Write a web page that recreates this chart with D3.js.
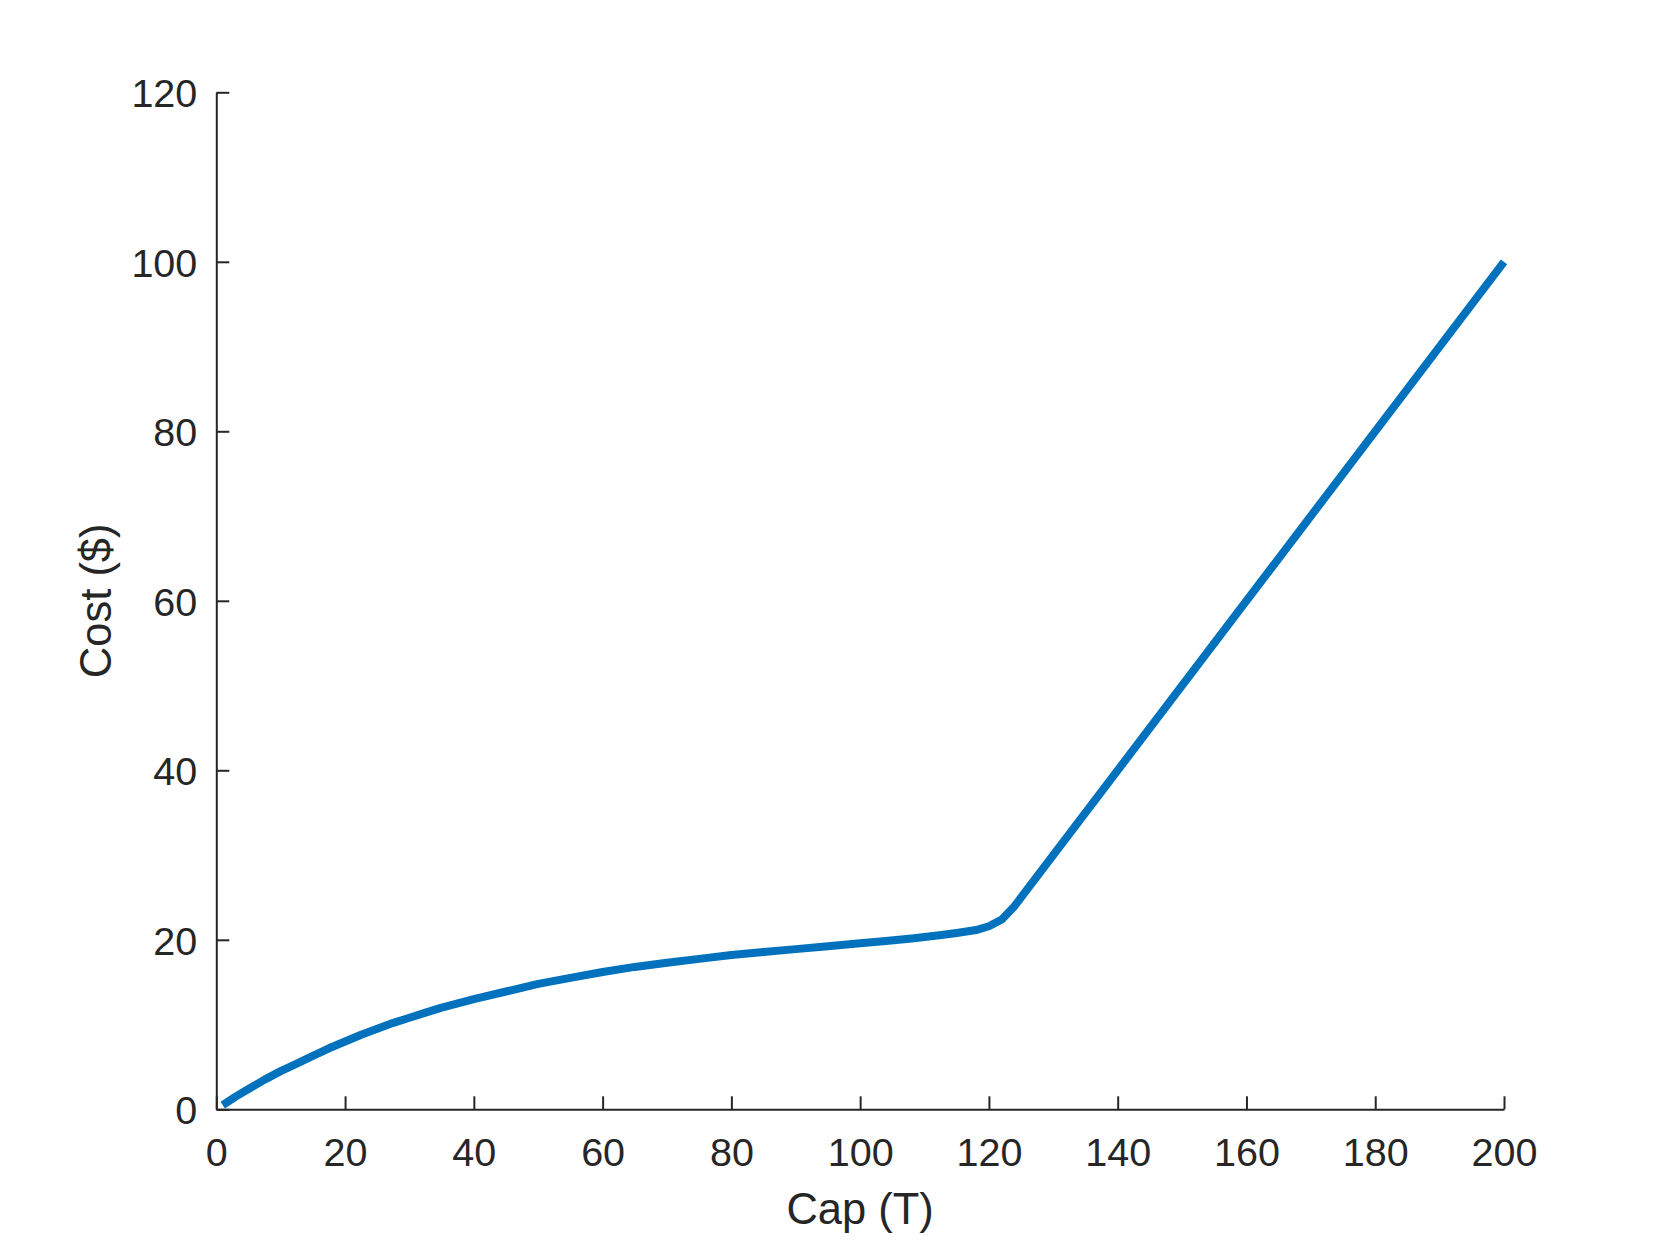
<!DOCTYPE html>
<html>
<head>
<meta charset="utf-8">
<script src="https://cdn.jsdelivr.net/npm/d3@7"></script>
<style>
  body { margin: 0; background: #fff; }
  svg { display: block; }
  .tick text { font-family: "Liberation Sans", Arial, sans-serif; fill: #262626; }
</style>
</head>
<body>
<svg id="chart" width="1661" height="1246"></svg>
<script>
// curve values
const capValues = [1, 3, 5, 7.5, 10, 12.5, 15, 17.5, 20, 22.5, 25, 27.5, 30, 32.5, 35, 37.5, 40, 45, 50, 55, 60, 65, 70, 75, 80, 85, 90, 95, 100, 104, 108, 112, 115, 118, 120, 122, 124, 200];
const costValues = [0.5, 1.5, 2.4, 3.5, 4.5, 5.4, 6.3, 7.2, 8.0, 8.8, 9.5, 10.2, 10.8, 11.4, 12.0, 12.5, 13.0, 13.9, 14.8, 15.5, 16.2, 16.8, 17.3, 17.75, 18.2, 18.55, 18.9, 19.25, 19.6, 19.85, 20.15, 20.5, 20.8, 21.15, 21.6, 22.4, 24.0, 100];
const xTicks = [0, 20, 40, 60, 80, 100, 120, 140, 160, 180, 200];
const yTicks = [0, 20, 40, 60, 80, 100, 120];

const svg = d3.select('#chart');
const plotLeft = 216.3, plotRight = 1504, plotTop = 92.3, plotBottom = 1109.3;
const axisColor = '#262626';

const x = d3.scaleLinear().domain([0, 200]).range([plotLeft, plotRight]);
const y = d3.scaleLinear().domain([0, 120]).range([plotBottom, plotTop]);

// x axis, ticks pointing inward
const gx = svg.append('g')
  .attr('transform', 'translate(0,' + plotBottom + ')')
  .call(d3.axisBottom(x).tickValues(xTicks).tickSizeInner(-13).tickSizeOuter(0).tickPadding(0).tickFormat(d3.format('d')));
gx.select('.domain').attr('stroke', axisColor).attr('stroke-width', 2);
gx.selectAll('.tick line').attr('stroke', axisColor).attr('stroke-width', 2);
gx.selectAll('.tick text')
  .attr('y', 57).attr('dy', null)
  .style('font-size', '39.5px');

// y axis
const gy = svg.append('g')
  .attr('transform', 'translate(' + plotLeft + ',0)')
  .call(d3.axisLeft(y).tickValues(yTicks).tickSizeInner(-13).tickSizeOuter(0).tickPadding(0).tickFormat(d3.format('d')));
gy.select('.domain').attr('stroke', axisColor).attr('stroke-width', 2);
gy.selectAll('.tick line').attr('stroke', axisColor).attr('stroke-width', 2);
gy.selectAll('.tick text')
  .attr('x', -19).attr('dy', '0.36em')
  .style('font-size', '39.5px');

// curve
const line = d3.line()
  .x((d, i) => x(capValues[i]))
  .y(d => y(d));

svg.append('path')
  .datum(costValues)
  .attr('d', line)
  .attr('fill', 'none')
  .attr('stroke', '#0072BD')
  .attr('stroke-width', 8)
  .attr('stroke-linejoin', 'round');

// axis labels
svg.append('text')
  .attr('x', (plotLeft + plotRight) / 2)
  .attr('y', 1224)
  .attr('text-anchor', 'middle')
  .style('font-family', '"Liberation Sans", Arial, sans-serif')
  .style('font-size', '43.5px')
  .attr('fill', axisColor)
  .text('Cap (T)');

svg.append('text')
  .attr('transform', 'translate(111,' + (plotTop + plotBottom) / 2 + ') rotate(-90)')
  .attr('text-anchor', 'middle')
  .style('font-family', '"Liberation Sans", Arial, sans-serif')
  .style('font-size', '43.5px')
  .attr('fill', axisColor)
  .text('Cost ($)');
</script>
</body>
</html>
